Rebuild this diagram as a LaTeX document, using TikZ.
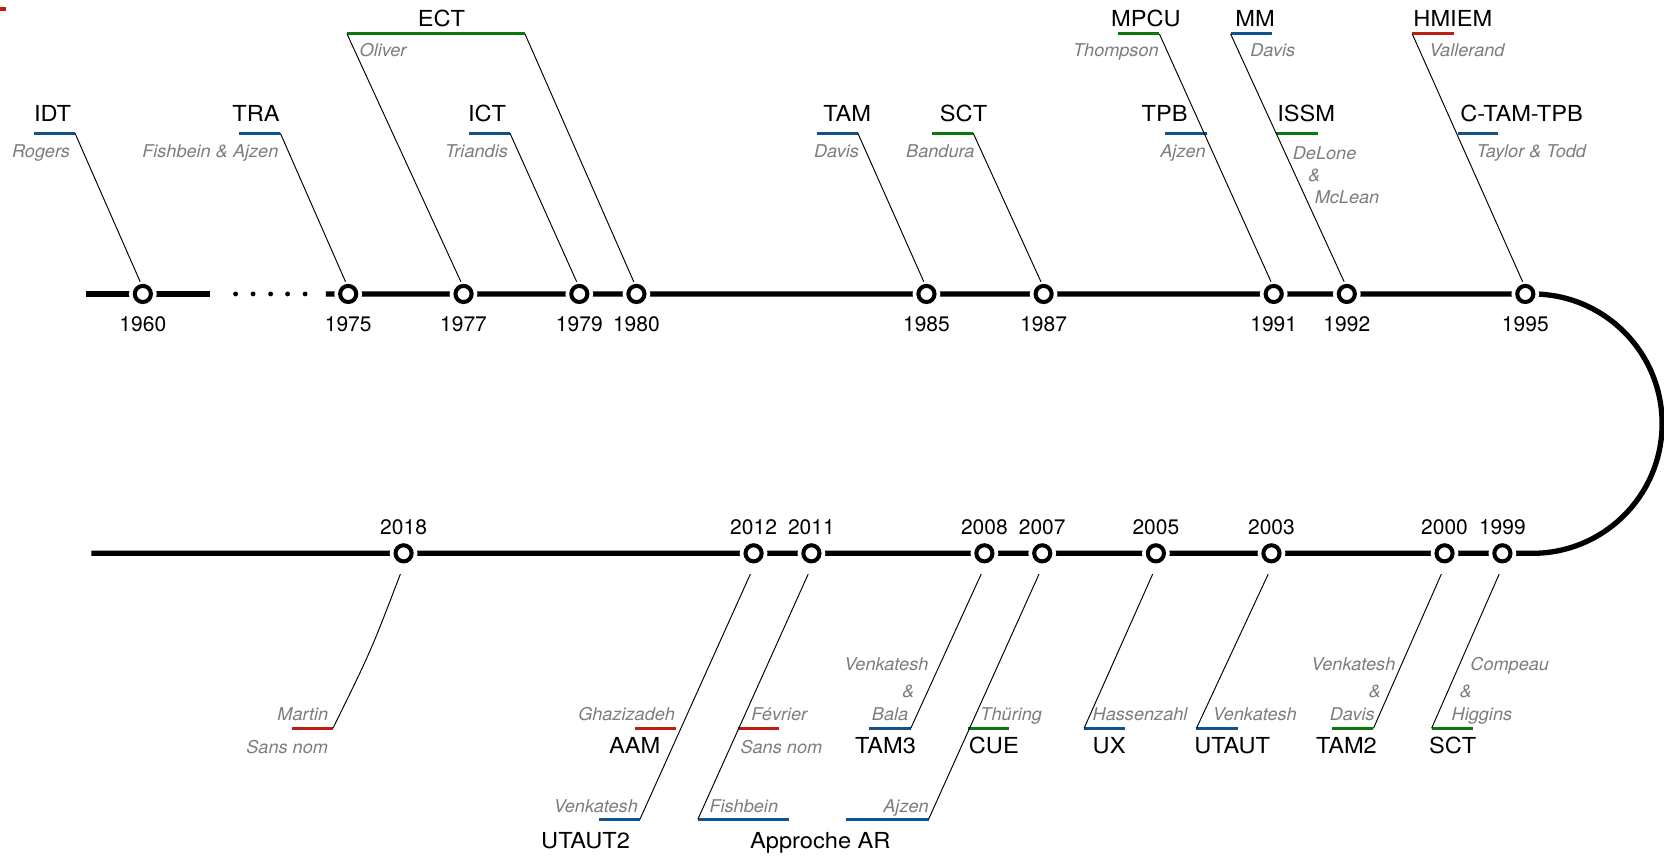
\documentclass[tikz,border=0pt]{standalone}
\usepackage{fontspec}
\setmainfont{TeX Gyre Heros}
\newfontfamily\lblfont{TeX Gyre Heros}[FakeStretch=1.07]
\newfontfamily\authfont{TeX Gyre Heros}[FakeStretch=1.03]
\usetikzlibrary{calc}
\definecolor{tlblue}{RGB}{16,82,140}
\definecolor{tlgreen}{RGB}{10,120,10}
\definecolor{tlred}{RGB}{190,30,15}
\definecolor{tlgray}{RGB}{125,125,125}
\begin{document}
\begin{tikzpicture}[x=0.5pt,y=-0.5pt,
  timeline/.style={line width=2.5pt, black},
  yearpt/.style={circle, draw=black, fill=white, line width=1.9pt, minimum size=7.6pt, inner sep=0pt,
                 preaction={draw=white, line width=5.4pt}},
  lbl/.style={font=\lblfont\fontsize{10.4pt}{12pt}\selectfont, inner sep=0pt, anchor=base},
  yr/.style={font=\fontsize{9.9pt}{12pt}\selectfont, inner sep=0pt, anchor=base},
  auth/.style={font=\authfont\fontsize{8.3pt}{10pt}\selectfont\itshape, text=tlgray, inner sep=0pt, anchor=base},
  bar/.style={line width=1.4pt},
  conn/.style={line width=0.45pt, black}]

\fill[white] (0,0) rectangle (1568,808);
\useasboundingbox (0,0) rectangle (1568,808);

% legend mark, cut at the left border
\draw[tlred, line width=1.7pt] (0,8.6) -- (5.7,8.6);

% ---------- main line ----------
\draw[timeline] (81,277) -- (198,277);
\foreach \dx in {222,238.5,255,271,287.5} \fill (\dx,277) circle[radius=2.3];
\draw[timeline] (307,277) -- (1444,277)
  arc[start angle=-90, end angle=90, radius=122.2] -- (86,521.4);

% ---------- year points, upper row ----------
\foreach \yy/\xx in {1960/134.6,1975/328.1,1977/436.8,1979/545.9,1980/599.7,1985/873,1987/983.4,1991/1200.2,1992/1269.1,1995/1437.3}{
  \node[yearpt] (y\yy) at (\xx,277) {};
  \node[yr] (ly\yy) at (\xx,312.6) {\yy};
}
% ---------- year points, lower row ----------
\foreach \yy/\xx in {2018/380.3,2012/710.1,2011/764.6,2008/927.6,2007/982.1,2005/1089.2,2003/1198.1,2000/1361.2,1999/1415.7}{
  \node[yearpt] (y\yy) at (\xx,521.4) {};
  \node[yr] (ly\yy) at (\xx,504) {\yy};
}

% ---------- upper annotations ----------
% IDT
\coordinate (bIDTl) at (32,125.6);   \coordinate (bIDTr) at (70.7,125.6);
\draw[bar,tlblue] (bIDTl) -- (bIDTr);
\node[lbl] (tIDT) at (49.5,114.5) {IDT};
\node[auth] (aRogers) at (38.7,148.5) {Rogers};
% TRA
\coordinate (bTRAl) at (224.8,125.6); \coordinate (bTRAr) at (264.2,125.6);
\draw[bar,tlblue] (bTRAl) -- (bTRAr);
\node[lbl] (tTRA) at (241.2,114.5) {TRA};
\node[auth] (aFA) at (198.2,148.5) {Fishbein \& Ajzen};
% ECT
\coordinate (bECTl) at (327,32);     \coordinate (bECTr) at (494.7,32);
\draw[bar,tlgreen] (bECTl) -- (bECTr);
\node[lbl] (tECT) at (416,25.1) {ECT};
\node[auth] (aOliver) at (361,53) {Oliver};
% ICT
\coordinate (bICTl) at (442,125.6);  \coordinate (bICTr) at (480.6,125.6);
\draw[bar,tlblue] (bICTl) -- (bICTr);
\node[lbl] (tICT) at (459,114.5) {ICT};
\node[auth] (aTriandis) at (449,148.5) {Triandis};
% TAM
\coordinate (bTAMl) at (769.7,125.6); \coordinate (bTAMr) at (808.4,125.6);
\draw[bar,tlblue] (bTAMl) -- (bTAMr);
\node[lbl] (tTAM) at (798.3,114.5) {TAM};
\node[auth] (aDavisA) at (788.2,148.5) {Davis};
% SCT
\coordinate (bSCTl) at (878.4,125.6); \coordinate (bSCTr) at (917.1,125.6);
\draw[bar,tlgreen] (bSCTl) -- (bSCTr);
\node[lbl] (tSCT) at (908,114.5) {SCT};
\node[auth] (aBandura) at (886.1,148.5) {Bandura};
% MPCU
\coordinate (bMPCUl) at (1053.5,32); \coordinate (bMPCUr) at (1092.5,32);
\draw[bar,tlgreen] (bMPCUl) -- (bMPCUr);
\node[lbl] (tMPCU) at (1079.8,25.1) {MPCU};
\node[auth] (aThompson) at (1051.5,53) {Thompson};
% MM
\coordinate (bMMl) at (1159.6,32);   \coordinate (bMMr) at (1198.6,32);
\draw[bar,tlblue] (bMMl) -- (bMMr);
\node[lbl] (tMM) at (1182.7,25.1) {MM};
\node[auth] (aDavisB) at (1199.3,53) {Davis};
% TPB
\coordinate (bTPBl) at (1097.6,125.6); \coordinate (bTPBr) at (1137.2,125.6);
\draw[bar,tlblue] (bTPBl) -- (bTPBr);
\node[lbl] (tTPB) at (1097.5,114.5) {TPB};
\node[auth] (aAjzenA) at (1114.8,148.5) {Ajzen};
% ISSM
\coordinate (bISSMl) at (1202.7,125.6); \coordinate (bISSMr) at (1241.6,125.6);
\draw[bar,tlgreen] (bISSMl) -- (bISSMr);
\node[lbl] (tISSM) at (1230.9,114.5) {ISSM};
\node[auth] (aDeLone) at (1248.2,150.1) {DeLone};
\node[auth] (aAmpA) at (1238.5,171.2) {\&};
\node[auth] (aMcLean) at (1269.3,192.2) {McLean};
% HMIEM
\coordinate (bHMIEMl) at (1330.8,32); \coordinate (bHMIEMr) at (1370.4,32);
\draw[bar,tlred] (bHMIEMl) -- (bHMIEMr);
\node[lbl] (tHMIEM) at (1369,25.1) {HMIEM};
\node[auth] (aVallerand) at (1382.3,53) {Vallerand};
% C-TAM-TPB
\coordinate (bCTAMl) at (1374,125.6); \coordinate (bCTAMr) at (1412,125.6);
\draw[bar,tlblue] (bCTAMl) -- (bCTAMr);
\node[lbl] (tCTAM) at (1433.8,114.5) {C-TAM-TPB};
\node[auth] (aTT) at (1443,148.5) {Taylor \& Todd};

% upper connectors
\draw[conn] (bIDTr)   -- ($(y1960)+(-2.5,-11.5)$);
\draw[conn] (bTRAr)   -- ($(y1975)+(-2.5,-11.5)$);
\draw[conn] (bECTl)   -- ($(y1977)+(-2.5,-11.5)$);
\draw[conn] (bECTr)   -- ($(y1980)+(-2.5,-11.5)$);
\draw[conn] (bICTr)   -- ($(y1979)+(-2.5,-11.5)$);
\draw[conn] (bTAMr)   -- ($(y1985)+(-2.5,-11.5)$);
\draw[conn] (bSCTr)   -- ($(y1987)+(-2.5,-11.5)$);
\draw[conn] (bMPCUr)  -- ($(y1991)+(-2.5,-11.5)$);
\draw[conn] (bMMl)    -- ($(y1992)+(-2.5,-11.5)$);
\draw[conn] (bHMIEMl) -- ($(y1995)+(-2.5,-11.5)$);

% ---------- lower annotations ----------
% 2018
\coordinate (bMartinl) at (275.3,686.3); \coordinate (bMartinr) at (313.7,686.3);
\draw[bar,tlred] (bMartinl) -- (bMartinr);
\node[auth] (aMartin) at (285.4,678.5) {Martin};
\node[auth] (aSansNomA) at (270.6,710.3) {Sans nom};
% 2012
\coordinate (bAAMl) at (598,686.3); \coordinate (bAAMr) at (636.7,686.3);
\draw[bar,tlred] (bAAMl) -- (bAAMr);
\node[auth] (aGhazizadeh) at (590.5,678.5) {Ghazizadeh};
\node[lbl] (tAAM) at (598,710.3) {AAM};
\coordinate (bUT2l) at (564.4,772); \coordinate (bUT2r) at (603,772);
\draw[bar,tlblue] (bUT2l) -- (bUT2r);
\node[auth] (aVenkA) at (561.5,765.5) {Venkatesh};
\node[lbl] (tUTAUT2) at (551.8,799.4) {UTAUT2};
% 2011
\coordinate (bFevl) at (695,686.3); \coordinate (bFevr) at (733.7,686.3);
\draw[bar,tlred] (bFevl) -- (bFevr);
\node[auth] (aFevrier) at (734.3,678.5) {Février};
\node[auth] (aSansNomB) at (736.3,710.3) {Sans nom};
\coordinate (bFishl) at (657.6,772); \coordinate (bFishr) at (743.5,772);
\draw[bar,tlblue] (bFishl) -- (bFishr);
\node[auth] (aFishbein) at (700.9,765.5) {Fishbein};
\node[lbl] (tAR) at (773,799.4) {Approche AR};
% 2008
\coordinate (bTAM3l) at (819.2,686.3); \coordinate (bTAM3r) at (858.2,686.3);
\draw[bar,tlblue] (bTAM3l) -- (bTAM3r);
\node[auth] (aVenkB) at (835.3,631.4) {Venkatesh};
\node[auth] (aAmpB) at (856,657) {\&};
\node[auth] (aBala) at (838.7,678.5) {Bala};
\node[lbl] (tTAM3) at (834.5,710.3) {TAM3};
% 2007
\coordinate (bCUEl) at (912,686.3); \coordinate (bCUEr) at (950.8,686.3);
\draw[bar,tlgreen] (bCUEl) -- (bCUEr);
\node[auth] (aThuring) at (952.9,678.5) {Thüring};
\node[lbl] (tCUE) at (936.5,710.3) {CUE};
\coordinate (bAjzl) at (797.2,772); \coordinate (bAjzr) at (875,772);
\draw[bar,tlblue] (bAjzl) -- (bAjzr);
\node[auth] (aAjzenB) at (853.8,765.5) {Ajzen};
% 2005
\coordinate (bUXl) at (1021.5,686.3); \coordinate (bUXr) at (1060,686.3);
\draw[bar,tlblue] (bUXl) -- (bUXr);
\node[auth] (aHassenzahl) at (1074.3,678.5) {Hassenzahl};
\node[lbl] (tUX) at (1045.1,710.3) {UX};
% 2003
\coordinate (bUTl) at (1127.4,686.3); \coordinate (bUTr) at (1166.4,686.3);
\draw[bar,tlblue] (bUTl) -- (bUTr);
\node[auth] (aVenkC) at (1182.4,678.5) {Venkatesh};
\node[lbl] (tUTAUT) at (1161.1,710.3) {UTAUT};
% 2000
\coordinate (bTAM2l) at (1255.2,686.3); \coordinate (bTAM2r) at (1294.2,686.3);
\draw[bar,tlgreen] (bTAM2l) -- (bTAM2r);
\node[auth] (aVenkD) at (1275.3,631.4) {Venkatesh};
\node[auth] (aAmpC) at (1295.5,657) {\&};
\node[auth] (aDavisC) at (1274.2,678.5) {Davis};
\node[lbl] (tTAM2) at (1268.8,710.3) {TAM2};
% 1999
\coordinate (bSCT2l) at (1349,686.3); \coordinate (bSCT2r) at (1388,686.3);
\draw[bar,tlgreen] (bSCT2l) -- (bSCT2r);
\node[auth] (aCompeau) at (1422.6,631.4) {Compeau};
\node[auth] (aAmpD) at (1381.3,657) {\&};
\node[auth] (aHiggins) at (1396.4,678.5) {Higgins};
\node[lbl] (tSCT2) at (1368.8,710.3) {SCT};

% lower connectors
\coordinate (s2018) at ($(y2018)+(-3,19.5)$);
\draw[conn] (s2018) .. controls ($(s2018)!0.5!(bMartinr)+(4,0)$) .. (bMartinr);
\draw[conn] ($(y2012)+(-3,19.5)$) -- (bUT2r);
\draw[conn] ($(y2011)+(-3,19.5)$) -- (bFishl);
\draw[conn] ($(y2008)+(-3,19.5)$) -- (bTAM3r);
\draw[conn] ($(y2007)+(-3,19.5)$) -- (bAjzr);
\draw[conn] ($(y2005)+(-3,19.5)$) -- (bUXl);
\draw[conn] ($(y2003)+(-3,19.5)$) -- (bUTl);
\draw[conn] ($(y2000)+(-3,19.5)$) -- (bTAM2r);
\draw[conn] ($(y1999)+(-3,19.5)$) -- (bSCT2l);
\end{tikzpicture}
\end{document}
